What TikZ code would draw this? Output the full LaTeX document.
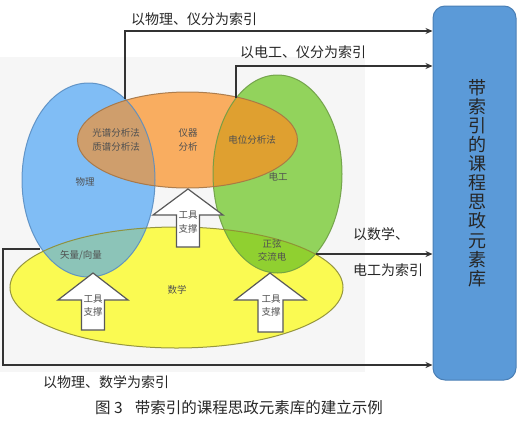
\documentclass[tikz,border=0pt]{standalone}
\usepackage{fontspec}
\newfontfamily\cjk{Noto Sans CJK SC}
\usetikzlibrary{arrows.meta}
\definecolor{bgray}{HTML}{F6F6F6}
\definecolor{cblue}{HTML}{80BDF5}
\definecolor{corange}{HTML}{F9AD60}
\definecolor{cgreen}{HTML}{92D35C}
\definecolor{cyellow}{HTML}{FAFA52}
\definecolor{cbo}{HTML}{CF9E6C}
\definecolor{cog}{HTML}{DFA030}
\definecolor{cby}{HTML}{8CC4B8}
\definecolor{cgy}{HTML}{90D030}
\definecolor{lblue}{HTML}{5A8EC2}
\definecolor{lorange}{HTML}{A57545}
\definecolor{lgreen}{HTML}{6E9E45}
\definecolor{lyellow}{HTML}{8C8C35}
\definecolor{boxfill}{HTML}{5B9AD8}
\definecolor{boxline}{HTML}{4A7FB5}
\definecolor{txtgray}{HTML}{505050}
\tikzset{
  small/.style={font=\cjk\fontsize{9.5}{13.5}\selectfont, text=txtgray, align=center, inner sep=0pt},
  lbl/.style={font=\cjk\fontsize{14}{16}\selectfont, text=black!85, inner sep=0pt},
  conn/.style={draw=black!80, line width=1.3pt, -{Stealth[length=7pt,width=6pt]}},
  blockarrow/.style={draw=black!65, line width=1.2pt, fill=white, line join=miter},
  outl/.style={line width=1pt, draw opacity=0.9},
}
\begin{document}
\begin{tikzpicture}[x=1pt,y=-1pt]
\useasboundingbox (0,0) rectangle (521,421);
\fill[bgray] (0,57) rectangle (365,372);

% base fills
\fill[cblue] (88.5,180) ellipse [x radius=66.5pt, y radius=97pt];
\fill[cgreen] (277.5,174) ellipse [x radius=64.5pt, y radius=99pt];
\fill[cyellow] (176.5,287.5) ellipse [x radius=166.5pt, y radius=60.5pt];
\fill[corange] (187.5,140) ellipse [x radius=110pt, y radius=48pt];
% intersections
\begin{scope}
  \clip (88.5,180) ellipse [x radius=66.5pt, y radius=97pt];
  \fill[cbo] (187.5,140) ellipse [x radius=110pt, y radius=48pt];
  \fill[cby] (176.5,287.5) ellipse [x radius=166.5pt, y radius=60.5pt];
\end{scope}
\begin{scope}
  \clip (277.5,174) ellipse [x radius=64.5pt, y radius=99pt];
  \fill[cog] (187.5,140) ellipse [x radius=110pt, y radius=48pt];
  \fill[cgy] (176.5,287.5) ellipse [x radius=166.5pt, y radius=60.5pt];
\end{scope}
% outlines
\draw[outl, lblue] (88.5,180) ellipse [x radius=66.5pt, y radius=97pt];
\draw[outl, lgreen] (277.5,174) ellipse [x radius=64.5pt, y radius=99pt];
\draw[outl, lyellow] (176.5,287.5) ellipse [x radius=166.5pt, y radius=60.5pt];
\draw[outl, lorange] (187.5,140) ellipse [x radius=110pt, y radius=48pt];

% block arrows
\draw[blockarrow] (188,189) -- (223,215) -- (199.5,215) -- (199.5,247) -- (176.5,247) -- (176.5,215) -- (153,215) -- cycle;
\draw[blockarrow] (93,273) -- (128,300) -- (104.5,300) -- (104.5,330) -- (81.5,330) -- (81.5,300) -- (58,300) -- cycle;
\draw[blockarrow] (270,273) -- (306,300) -- (283,300) -- (283,332) -- (258,332) -- (258,300) -- (235,300) -- cycle;
\node[small] (tool1) at (188,222) {工具\\支撑};
\node[small] (tool2) at (93,305.5) {工具\\支撑};
\node[small] (tool3) at (271,305.5) {工具\\支撑};

% region texts
\node[small] (spec) at (116,140) {光谱分析法\\质谱分析法};
\node[small] (instr) at (188,140) {仪器\\分析};
\node[small] (elec) at (252,140) {电位分析法};
\node[small] (phys) at (85,182) {物理};
\node[small] (eng) at (278,177) {电工};
\node[small] (vec) at (81,255) {矢量/向量};
\node[small] (ac) at (272,250.5) {正弦\\交流电};
\node[small] (math) at (177,290) {数学};

% library box
\node[draw=boxline, fill=boxfill, line width=1pt, rounded corners=12pt,
      minimum width=83pt, minimum height=374pt, inner sep=0pt]
  (lib) at (474.5,193) {};
\node[font=\cjk\fontsize{18}{19.1}\selectfont, text=black!85, align=center, inner sep=0pt]
  (libtxt) at (477,183) {带\\索\\引\\的\\课\\程\\思\\政\\元\\素\\库};

% connection points
\coordinate (c1) at (125,99);
\coordinate (c2) at (236,97.5);
\coordinate (c3) at (316,254);
\coordinate (c4) at (40,249);
\coordinate (k1) at (0,31);
\coordinate (k2) at (0,66);
\coordinate (k4a) at (3,249);
\coordinate (k4b) at (0,365);

\draw[conn] (c1) |- (lib.west |- k1);
\draw[conn] (c2) |- (lib.west |- k2);
\draw[conn] (c3) -- (lib.west |- c3);
\draw[conn] (c4) -- (k4a) |- (lib.west |- k4b);

% labels
\node[lbl, anchor=west] (l1) at (131,19) {以物理、仪分为索引};
\node[lbl, anchor=west] (l2) at (240,52) {以电工、仪分为索引};
\node[lbl, anchor=west] (l3a) at (353,234) {以数学、};
\node[lbl, anchor=west] (l3b) at (353,270) {电工为索引};
\node[lbl, anchor=west] (l4) at (43,382) {以物理、数学为索引};

% caption
\node[anchor=west, inner sep=0pt, font=\cjk\fontsize{15.5}{18}\selectfont, text=black!85]
  (cap) at (95,408) {图 3\hspace{12pt}带索引的课程思政元素库的建立示例};
\end{tikzpicture}
\end{document}
